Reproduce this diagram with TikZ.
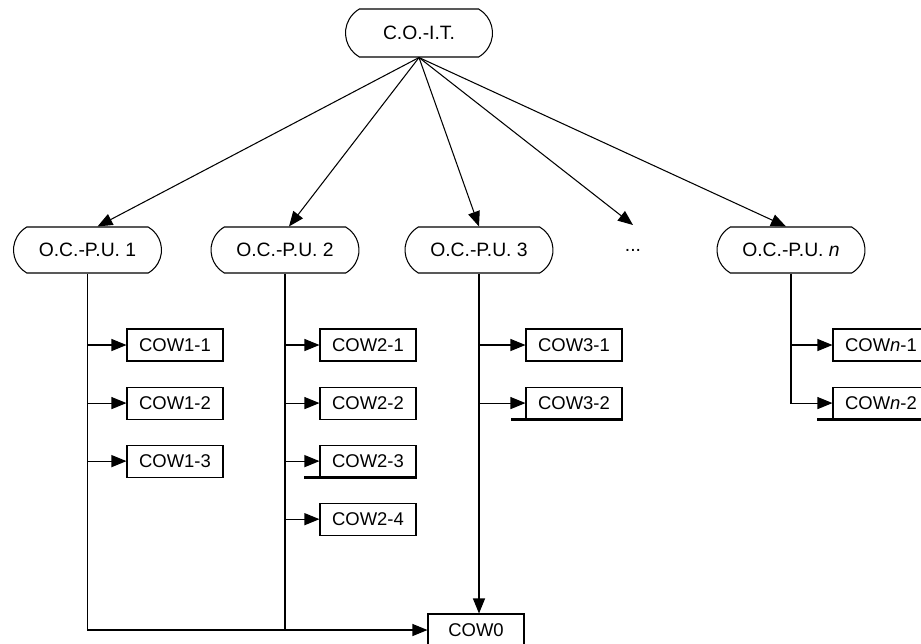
\documentclass[tikz,border=0pt]{standalone}
\usepackage{fontspec}
\setmainfont{Liberation Sans}
\usetikzlibrary{arrows.meta,positioning,calc,shapes.misc}

\begin{document}
\begin{tikzpicture}[
  node distance=0.5cm and 0.86cm,
  line width=0.6pt,
  oc/.style={draw, rounded rectangle, rounded rectangle arc length=120, align=center, font=\fontsize{11}{13}\selectfont, minimum width=3.1cm, minimum height=0.92cm, inner sep=2pt},
  cow/.style={draw, font=\fontsize{10.5}{12}\selectfont, minimum width=1.92cm, minimum height=0.64cm, inner sep=0pt},
  arr/.style={-{Triangle[length=0.3cm,width=0.24cm]}},
  uline/.style={line width=1.4pt}
]
\useasboundingbox (0,0) rectangle (18.42,-12.86);
\node[oc, minimum height=0.96cm, minimum width=3.08cm] (cot) at (8.38,-0.66) {C.O.-I.T.};
\node[oc] (ocpu1) at (1.75,-5.0) {O.C.-P.U. 1};
\node[oc] (ocpu2) at (5.7,-5.0) {O.C.-P.U. 2};
\node[oc] (ocpu3) at (9.58,-5.0) {O.C.-P.U. 3};
\node[oc] (ocpun) at (15.82,-5.0) {O.C.-P.U. \textit{n}};
\node[font=\fontsize{11}{13}\selectfont] (dots) at (12.66,-5.0) {...};
% first column
\node[cow] (c11) at (3.5,-6.9) {COW1-1};
\node[cow, below=of c11] (c12) {COW1-2};
\node[cow, below=of c12] (c13) {COW1-3};
% second column
\node[cow] (c21) at (7.36,-6.9) {COW2-1};
\node[cow, below=of c21] (c22) {COW2-2};
\node[cow, below=of c22] (c23) {COW2-3};
\node[cow, below=of c23] (c24) {COW2-4};
% third column
\node[cow] (c31) at (11.48,-6.9) {COW3-1};
\node[cow, below=of c31] (c32) {COW3-2};
% last column
\node[cow] (cn1) at (17.62,-6.9) {COW\textit{n}-1};
\node[cow, below=of cn1] (cn2) {COW\textit{n}-2};
\node[cow] (cow0) at (9.52,-12.6) {COW0};
% from the top
\draw[arr] (cot.south) -- ([xshift=0.2cm]ocpu1.north);
\draw[arr] (cot.south) -- ([xshift=0.08cm]ocpu2.north);
\draw[arr] (cot.south) -- (ocpu3.north);
\draw[arr] (cot.south) -- ([yshift=0.5cm]dots.center);
\draw[arr] (cot.south) -- ([xshift=-0.1cm]ocpun.north);
% columns
\foreach \c in {c11,c12,c13}
  \draw[arr] (ocpu1.south |- \c.west) -- (\c.west);
\foreach \c in {c21,c22,c23,c24}
  \draw[arr] (ocpu2.south |- \c.west) -- (\c.west);
\foreach \c in {c31,c32}
  \draw[arr] (ocpu3.south |- \c.west) -- (\c.west);
\draw[arr] (ocpun.south |- cn1.west) -- (cn1.west);
\draw[arr] (ocpun.south) |- (cn2.west);
\draw[arr] (ocpu1.south) |- (cow0.west);
\draw (ocpu2.south) -- (ocpu2.south |- cow0.west);
\draw[arr] (ocpu3.south) -- (ocpu3.south |- cow0.north);
% thick bottom lines
\draw[uline] ([xshift=-0.3cm]c23.south west) -- (c23.south east);
\draw[uline] ([xshift=-0.28cm]c32.south west) -- (c32.south east);
\draw[uline] ([xshift=-0.3cm]cn2.south west) -- (cn2.south east);
\end{tikzpicture}
\end{document}
